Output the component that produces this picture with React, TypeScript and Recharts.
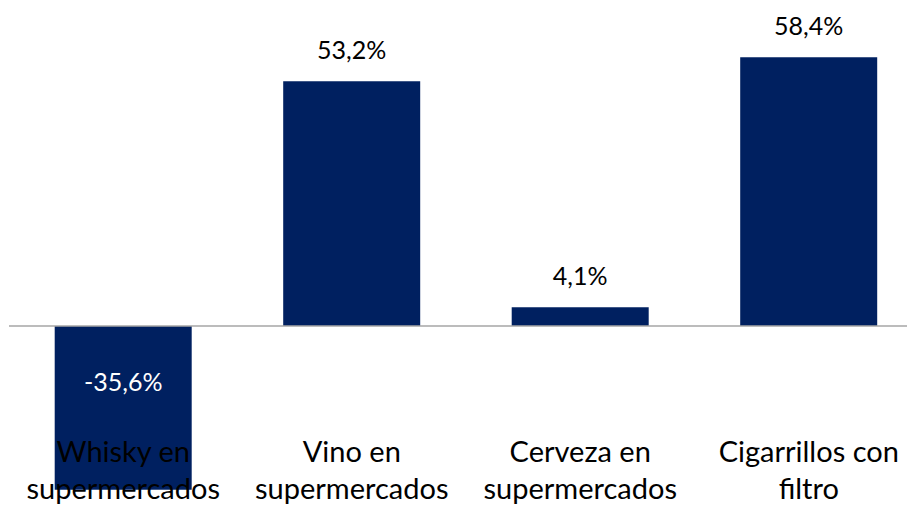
import React from 'react'
import { BarChart, Bar, XAxis, YAxis, ReferenceLine, LabelList } from 'recharts'

const categories = [
  'Whisky en supermercados',
  'Vino en supermercados',
  'Cerveza en supermercados',
  'Cigarrillos con filtro'
]
const labelLines = [
  ['Whisky en', 'supermercados'],
  ['Vino en', 'supermercados'],
  ['Cerveza en', 'supermercados'],
  ['Cigarrillos con', 'filtro']
]
const variacion = [-35.6, 53.2, 4.1, 58.4]

const data = categories.map((c, i) => ({ categoria: c, valor: variacion[i] }))

const formatPct = (v: number) => v.toFixed(1).replace('.', ',') + '%'

const CategoryTick = ({ x, y, index }: any) => {
  const lines = labelLines[index] || []
  return (
    <g>
      {lines.map((line, i) => (
        <text
          key={i}
          x={x}
          y={y - 48 + i * 37}
          textAnchor="middle"
          fill="#000000"
          style={{ fontFamily: 'Lato, sans-serif', fontSize: 29 }}
        >
          {line}
        </text>
      ))}
    </g>
  )
}

const ValueLabel = ({ x, y, width, height, value }: any) => {
  const top = Math.min(y, y + height)
  const cx = x + width / 2
  if (value < 0) {
    return (
      <text
        x={cx}
        y={top + 65}
        textAnchor="middle"
        fill="#ffffff"
        style={{ fontFamily: 'Lato, sans-serif', fontSize: 25 }}
      >
        {formatPct(value)}
      </text>
    )
  }
  return (
    <text
      x={cx}
      y={top - 22}
      textAnchor="middle"
      fill="#000000"
      style={{ fontFamily: 'Lato, sans-serif', fontSize: 25 }}
    >
      {formatPct(value)}
    </text>
  )
}

export default function App() {
  return (
    <div
      style={{
        position: 'fixed',
        top: 0,
        left: 0,
        width: 907,
        height: 505,
        overflow: 'hidden',
        background: '#ffffff'
      }}
    >
      <BarChart
        width={930}
        height={515}
        data={data}
        margin={{ top: 50, right: 7, bottom: 4, left: 9 }}
        barCategoryGap="20%"
      >
        <YAxis hide domain={[-40, 60]} />
        <ReferenceLine y={0} stroke="#a6a6a6" strokeWidth={1.5} />
        <Bar dataKey="valor" fill="#002060" isAnimationActive={false}>
          <LabelList dataKey="valor" content={<ValueLabel />} />
        </Bar>
        <XAxis
          dataKey="categoria"
          height={1}
          axisLine={false}
          tickLine={false}
          tickSize={0}
          tickMargin={0}
          interval={0}
          tick={<CategoryTick />}
        />
      </BarChart>
    </div>
  )
}
